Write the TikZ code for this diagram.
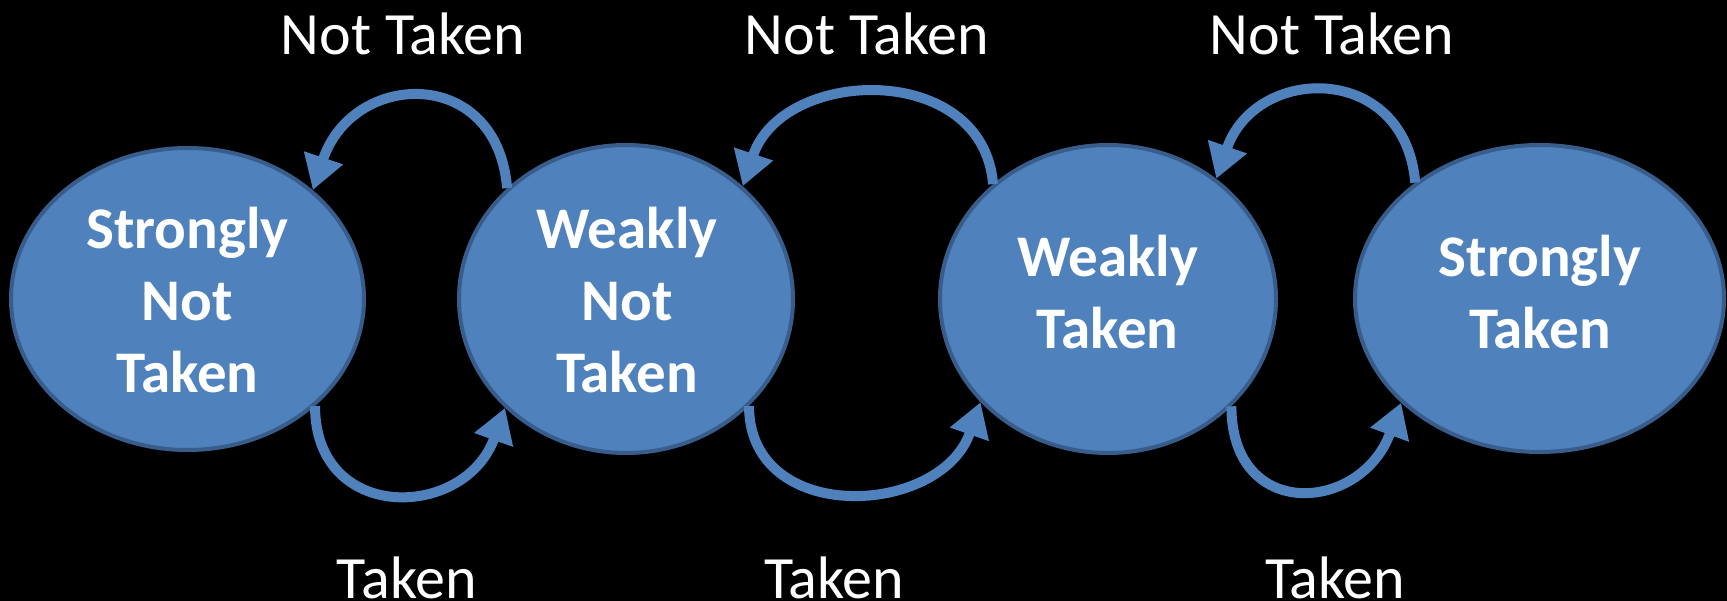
\documentclass[tikz,border=0pt]{standalone}
\usepackage{fontspec}
\setmainfont{Carlito}
\usetikzlibrary{shapes.geometric,arrows.meta}
\definecolor{stateblue}{HTML}{4F81BD}
\definecolor{stateedge}{HTML}{385D8A}
\begin{document}
\begin{tikzpicture}[x=1pt,y=-1pt,
  state/.style={ellipse, draw=stateedge, line width=4pt, fill=stateblue, inner sep=0pt},
  statetext/.style={text=white, font=\bfseries\fontsize{59}{72}\selectfont, align=center, inner sep=0pt},
  edgelabel/.style={text=white, font=\fontsize{60}{72}\selectfont, anchor=base, inner sep=0pt},
  flow/.style={draw=stateblue, line width=10pt, -{Triangle[width=39pt,length=34pt]}}]
\fill[black] (0,0) rectangle (1727,601);
\useasboundingbox (0,0) rectangle (1727,601);

% states
\node[state, minimum width=353pt, minimum height=302pt] (snt) at (187.5,299) {};
\node[state, minimum width=334pt, minimum height=308pt] (wnt) at (626,299) {};
\node[state, minimum width=336pt, minimum height=308pt] (wt)  at (1108,299) {};
\node[state, minimum width=369pt, minimum height=307pt] (st)  at (1539.5,298.5) {};

\node[statetext] (sntl) at (187.5,300) {Strongly\\Not\\Taken};
\node[statetext] (wntl) at (627,300) {Weakly\\Not\\Taken};
\node[statetext] (wtl)  at (1107.5,292) {Weakly\\Taken};
\node[statetext] (stl)  at (1540,292) {Strongly\\Taken};

% not-taken transitions (over the top)
\draw[flow] (wnt.137) .. controls +(-10,-123) and +(40,-120) .. (snt.41);
\draw[flow] (wt.135) .. controls +(-10,-123) and +(40,-120) .. (wnt.44);
\draw[flow] (st.137) .. controls +(-10,-120) and +(40,-115) .. (wt.48);

% taken transitions (underneath)
\draw[flow] (snt.-40) .. controls +(0,118) and +(-40,112) .. (wnt.-138);
\draw[flow] (wnt.-41) .. controls +(0,120) and +(-40,115) .. (wt.-141);
\draw[flow] (wt.-41) .. controls +(0,116) and +(-40,110) .. (st.-143);

% transition labels
\node[edgelabel] (nt1) at (403,55) {Not Taken};
\node[edgelabel] (nt2) at (867,55) {Not Taken};
\node[edgelabel] (nt3) at (1332,55) {Not Taken};
\node[edgelabel] (t1) at (407,598) {Taken};
\node[edgelabel] (t2) at (834,598) {Taken};
\node[edgelabel] (t3) at (1335,598) {Taken};
\end{tikzpicture}
\end{document}
